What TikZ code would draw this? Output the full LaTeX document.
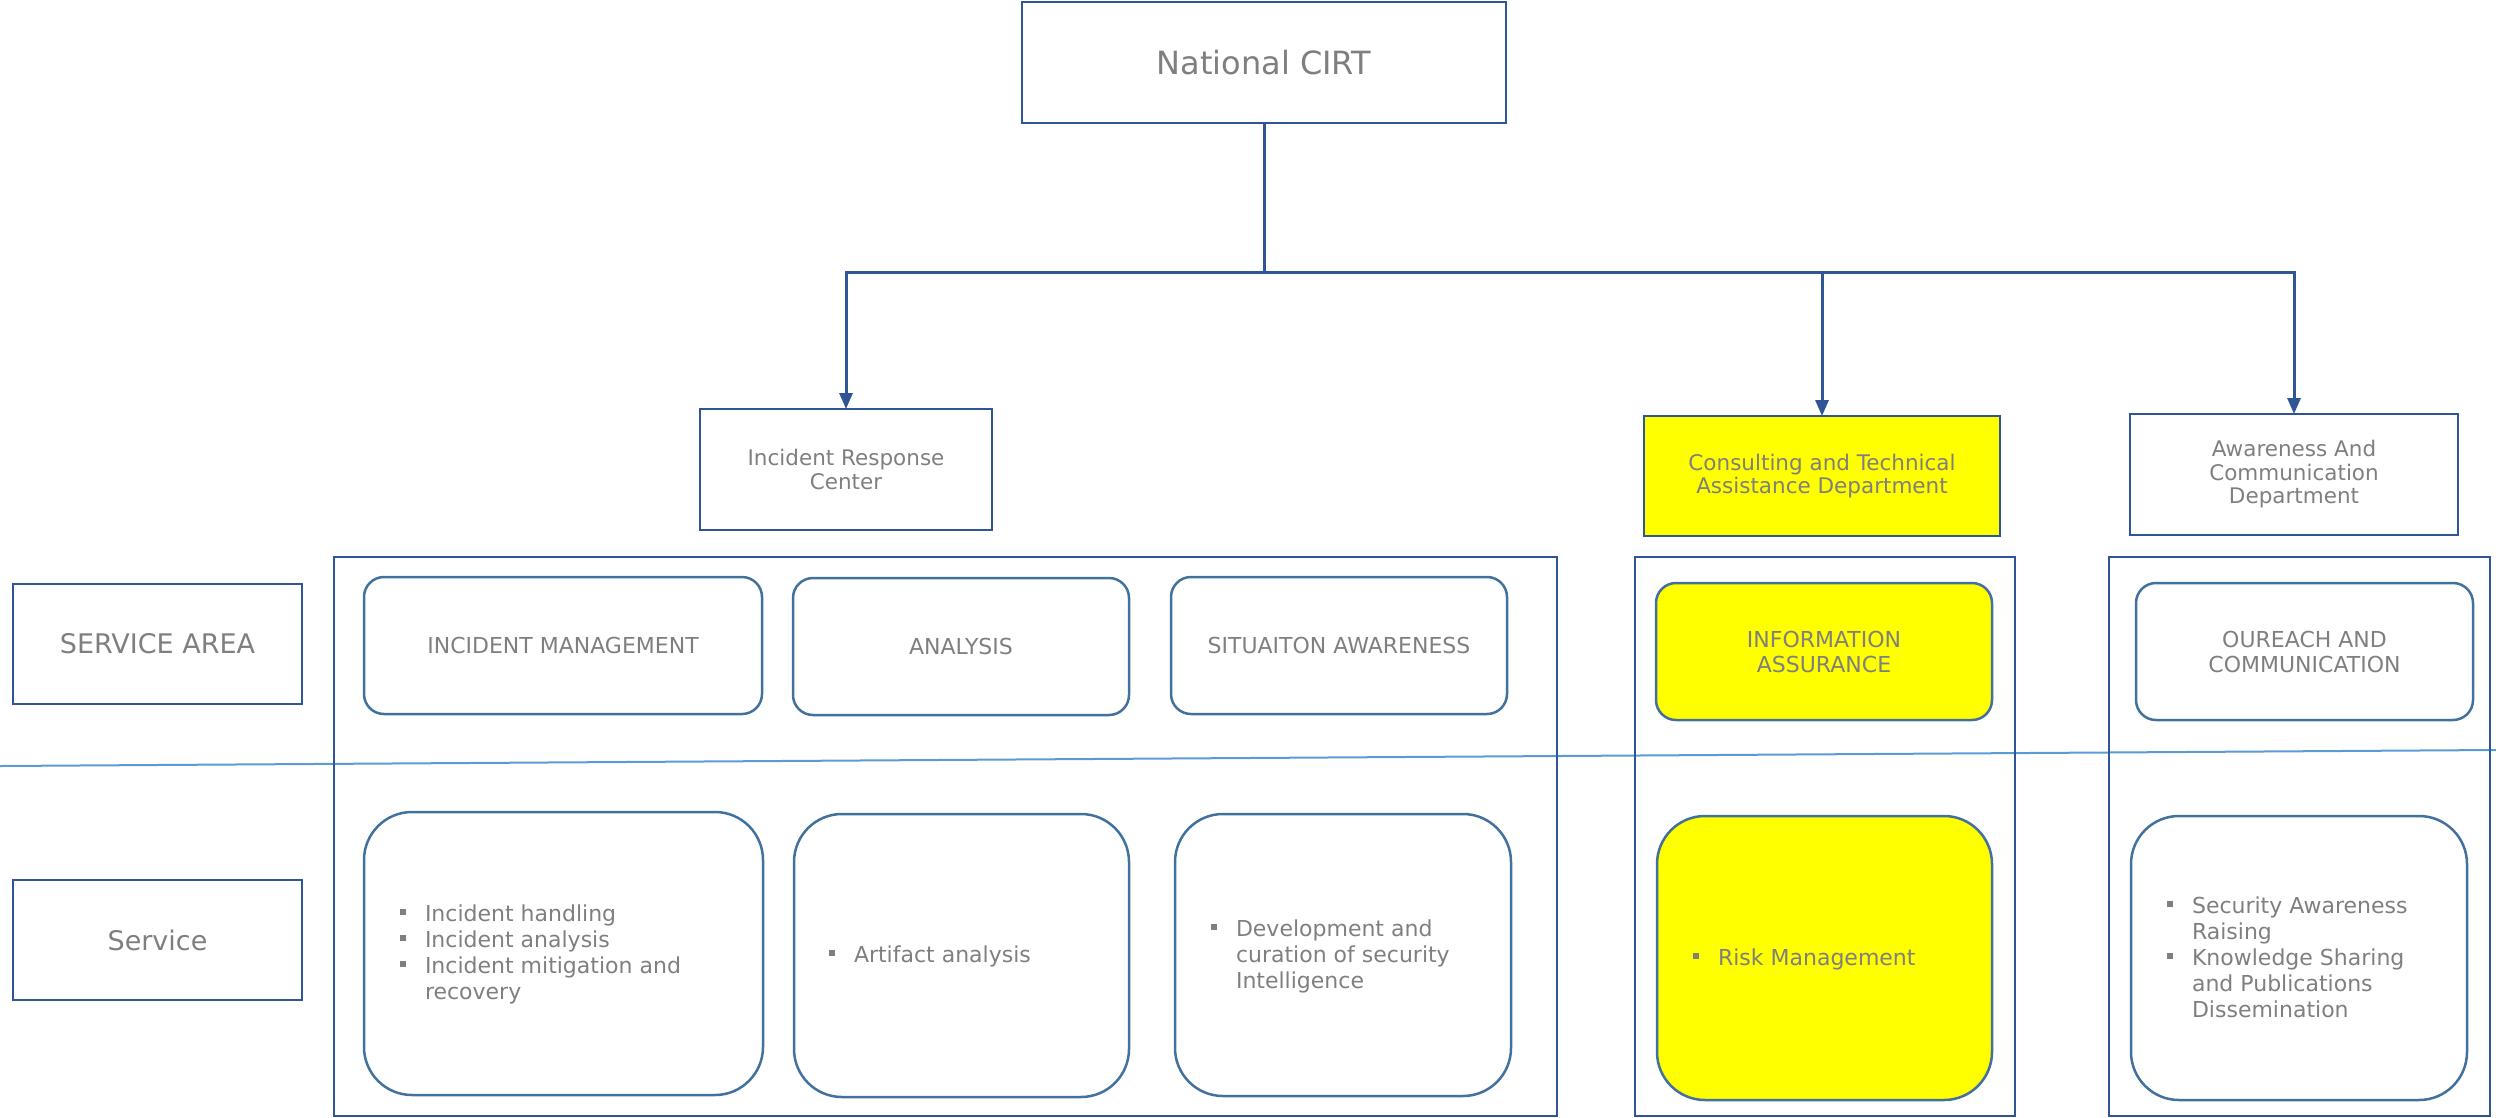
\documentclass[tikz,border=0pt]{standalone}
\usepackage{fontspec}
\setmainfont{DejaVu Sans}
\usetikzlibrary{arrows.meta}
\definecolor{connblue}{HTML}{2F5597}
\definecolor{boxblue}{HTML}{2F5597}
\definecolor{rblue}{HTML}{41719C}
\definecolor{divblue}{HTML}{5B9BD5}
\definecolor{txtgray}{HTML}{7F7F7F}
\definecolor{hiyellow}{HTML}{FFFF00}
\newcommand{\bsq}{\textcolor{txtgray}{\rule[6pt]{6pt}{6pt}}}
\newenvironment{blist}{\begin{tabular}{@{}l@{\hspace{19pt}}l@{}}}{\end{tabular}}
\begin{document}
\begin{tikzpicture}[x=1pt,y=-1pt,
  every node/.style={inner sep=0pt, outer sep=0pt, text=txtgray},
  orgbox/.style={draw=boxblue, line width=2pt, rectangle, align=center},
  areabox/.style={draw=rblue, line width=2.5pt, rounded corners=20pt, align=center, minimum height=137pt, font=\fontsize{22}{25}\selectfont},
  svcbox/.style={draw=rblue, line width=2.5pt, rounded corners=48pt},
  frame/.style={draw=boxblue, line width=2pt},
  conn/.style={draw=connblue, line width=3pt, -{Triangle[length=16pt,width=13pt]}},
  divider/.style={draw=divblue, line width=2pt},
  bigtxt/.style={font=\fontsize{32}{38}\selectfont},
  labtxt/.style={font=\fontsize{27}{32}\selectfont},
  depttxt/.style={font=\fontsize{21.5}{23.5}\selectfont},
  listtxt/.style={anchor=west, align=left, font=\fontsize{22}{26}\selectfont}
]
\useasboundingbox (0,0) rectangle (2496,1117);

% divider line
\coordinate (divL) at (0,766);
\coordinate (divR) at (2496,750);
\draw[divider] (divL) -- (divR);

% top
\node[orgbox, bigtxt, minimum width=484pt, minimum height=121pt] (cirt) at (1264,62.5) {National CIRT};

% departments
\node[orgbox, depttxt, minimum width=292pt, minimum height=121pt] (irc) at (846,469.5) {Incident Response\\Center};
\node[orgbox, depttxt, fill=hiyellow, minimum width=356pt, minimum height=120pt] (cta) at (1822,476) {Consulting and Technical\\Assistance Department};
\node[orgbox, depttxt, minimum width=328pt, minimum height=121pt] (acd) at (2294,474.5) {Awareness And\\Communication\\Department};

% connectors
\coordinate (bus) at (1264,272);
\draw[conn] (cirt.south) -- (bus) -| (irc.north);
\draw[conn] (bus) -| (cta.north);
\draw[conn] (bus) -| (acd.north);

% row labels
\node[orgbox, labtxt, minimum width=289pt, minimum height=120pt] (sa) at (157.5,644) {SERVICE AREA};
\node[orgbox, labtxt, minimum width=289pt, minimum height=120pt] (sv) at (157.5,940) {Service};

% frames
\node[frame, minimum width=1223pt, minimum height=559pt] (fl) at (945.5,836.5) {};
\node[frame, minimum width=380pt, minimum height=559pt] (fm) at (1825,836.5) {};
\node[frame, minimum width=381pt, minimum height=559pt] (fr) at (2299.5,836.5) {};

% service areas
\node[areabox, minimum width=398pt] (im) at (563,645.5) {INCIDENT MANAGEMENT};
\node[areabox, minimum width=336pt] (an) at (961,646.5) {ANALYSIS};
\node[areabox, minimum width=336pt] (sit) at (1339,645.5) {SITUAITON AWARENESS};
\node[areabox, fill=hiyellow, minimum width=336pt] (ia) at (1824,651.5) {INFORMATION\\ASSURANCE};
\node[areabox, minimum width=337pt] (oc) at (2304.5,651.5) {OUREACH AND\\COMMUNICATION};

% services
\node[svcbox, minimum width=399pt, minimum height=283pt] (ihb) at (563.5,953.5) {};
\node[svcbox, minimum width=335pt, minimum height=283pt] (aab) at (961.5,955.5) {};
\node[svcbox, minimum width=336pt, minimum height=282pt] (devb) at (1343,955) {};
\node[svcbox, fill=hiyellow, minimum width=335pt, minimum height=284pt] (rmb) at (1824.5,958) {};
\node[svcbox, minimum width=336pt, minimum height=284pt] (secb) at (2299,958) {};

\node[listtxt] (ihl) at (400,955) {\begin{blist}\bsq & Incident handling\\ \bsq & Incident analysis\\ \bsq & Incident mitigation and\\ & recovery\end{blist}};
\node[listtxt] (aal) at (829,957) {\begin{blist}\bsq & Artifact analysis\end{blist}};
\node[listtxt] (devl) at (1211,957) {\begin{blist}\bsq & Development and\\ & curation of security\\ & Intelligence\end{blist}};
\node[listtxt] (rml) at (1693,960) {\begin{blist}\bsq & Risk Management\end{blist}};
\node[listtxt] (secl) at (2167,960) {\begin{blist}\bsq & Security Awareness\\ & Raising\\ \bsq & Knowledge Sharing\\ & and Publications\\ & Dissemination\end{blist}};
\end{tikzpicture}
\end{document}
